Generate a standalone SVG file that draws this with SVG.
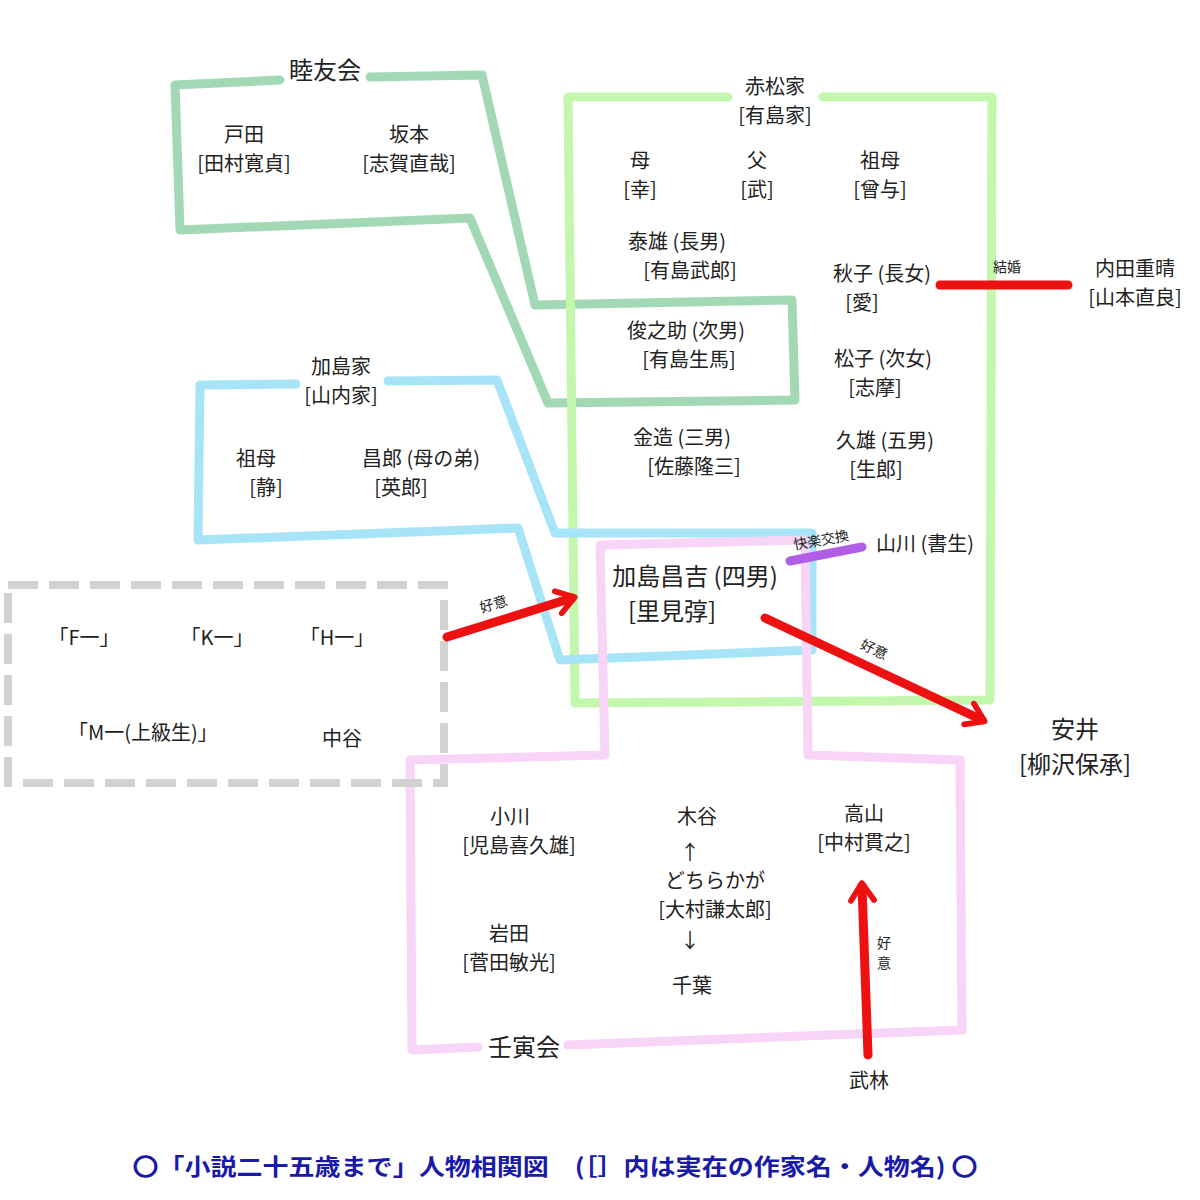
<svg xmlns="http://www.w3.org/2000/svg" width="1200" height="1200" viewBox="0 0 1200 1200">
<style>
text{font-family:"Noto Sans CJK JP","Noto Sans",sans-serif;fill:#222;font-size:20px;text-anchor:middle}
.b{font-size:24px}
.s{font-size:14px}
.g{fill:none;stroke-width:9;stroke-linejoin:round;stroke-linecap:round}
.red{stroke:#ee1111;stroke-width:9;stroke-linecap:round;fill:none}
</style>
<defs>
<marker id="ah" viewBox="0 0 10 10" refX="6" refY="5" markerWidth="3.2" markerHeight="3.2" orient="auto" markerUnits="strokeWidth"><path d="M1,1 L7,5 L1,9" fill="none" stroke="#ee1111" stroke-width="2" stroke-linecap="round" stroke-linejoin="round"/></marker>
</defs>
<rect width="1200" height="1200" fill="#fff"/>
<g id="groups">
<polyline class="g" stroke="#a3d8b4" points="280,80 175,85 180,230 470,218 548,403 795,400 792,300 535,305 482,75 370,77"/>
<polyline class="g" stroke="#c2f7ad" points="728,97 568,97 575,703 990,700 992,97 823,97"/>
<polyline class="g" stroke="#a8e4f8" points="296,384 200,385 198,540 518,528 560,660 812,650 812,533 555,533 497,380 388,381"/>
<polyline class="g" stroke="#f8d4f6" points="478,1047 412,1050 410,760 605,755 600,545 805,540 808,755 960,760 962,1030 568,1045"/>
<rect x="8" y="585" width="436" height="198" fill="none" stroke="#d2d2d2" stroke-width="8" stroke-dasharray="30,11"/>
</g>
<g id="connectors">
<line class="red" x1="447" y1="637" x2="572" y2="598" marker-end="url(#ah)"/>
<line class="red" x1="940" y1="285" x2="1068" y2="285"/>
<line class="red" x1="765" y1="618" x2="982" y2="720" marker-end="url(#ah)"/>
<line class="red" x1="868" y1="1055" x2="862" y2="886" marker-end="url(#ah)"/>
<line x1="790" y1="561" x2="862" y2="547" stroke="#b05ee6" stroke-width="9" stroke-linecap="round"/>
<text class="s" x="495" y="609" transform="rotate(-17 495 609)">好意</text>
<text class="s" x="1007" y="272">結婚</text>
<text class="s" x="872" y="654" transform="rotate(25 872 654)">好意</text>
<text class="s" x="884" y="948">好</text><text class="s" x="884" y="968">意</text>
<text class="s" x="822" y="545" transform="rotate(-10 822 545)">快楽交換</text>
</g>
<g id="labels">
<text class="b" x="325" y="79">睦友会</text>
<text x="775" y="94">赤松家</text><text x="775" y="123">[有島家]</text>
<text x="341" y="374">加島家</text><text x="341" y="403">[山内家]</text>
<text class="b" x="524" y="1056">壬寅会</text>
</g>
<g id="n-toda"><text x="244" y="142">戸田</text><text x="244" y="171">[田村寛貞]</text></g>
<g id="n-sakamoto"><text x="409" y="142">坂本</text><text x="409" y="171">[志賀直哉]</text></g>
<g id="n-haha"><text x="640" y="168">母</text><text x="640" y="197">[幸]</text></g>
<g id="n-chichi"><text x="757" y="168">父</text><text x="757" y="197">[武]</text></g>
<g id="n-sobo1"><text x="880" y="168">祖母</text><text x="880" y="197">[曾与]</text></g>
<g id="n-yasuo"><text x="677" y="249">泰雄 (長男)</text><text x="690" y="278">[有島武郎]</text></g>
<g id="n-akiko"><text x="882" y="281">秋子 (長女)</text><text x="862" y="310">[愛]</text></g>
<g id="n-uchida"><text x="1135" y="276">内田重晴</text><text x="1135" y="305">[山本直良]</text></g>
<g id="n-shunnosuke"><text x="686" y="338">俊之助 (次男)</text><text x="689" y="367">[有島生馬]</text></g>
<g id="n-matsuko"><text x="883" y="366">松子 (次女)</text><text x="875" y="395">[志摩]</text></g>
<g id="n-kinzo"><text x="682" y="445">金造 (三男)</text><text x="694" y="474">[佐藤隆三]</text></g>
<g id="n-hisao"><text x="885" y="448">久雄 (五男)</text><text x="876" y="477">[生郎]</text></g>
<g id="n-sobo2"><text x="256" y="466">祖母</text><text x="266" y="495">[静]</text></g>
<g id="n-masao"><text x="421" y="466">昌郎 (母の弟)</text><text x="401" y="495">[英郎]</text></g>
<g id="n-yamakawa"><text x="925" y="551">山川 (書生)</text></g>
<g id="n-masakichi"><text class="b" x="695" y="585">加島昌吉 (四男)</text><text class="b" x="672" y="620">[里見弴]</text></g>
<g id="n-F"><text x="84" y="645">「F一」</text></g>
<g id="n-K"><text x="217" y="645">「K一」</text></g>
<g id="n-H"><text x="337" y="645">「H一」</text></g>
<g id="n-M"><text x="143" y="740">「M一(上級生)」</text></g>
<g id="n-nakatani"><text x="342" y="746">中谷</text></g>
<g id="n-yasui"><text class="b" x="1075" y="738">安井</text><text class="b" x="1075" y="773">[柳沢保承]</text></g>
<g id="n-ogawa"><text x="510" y="824">小川</text><text x="519" y="853">[児島喜久雄]</text></g>
<g id="n-kitani"><text x="697" y="824">木谷</text><text x="690" y="860">↑</text><text x="715" y="888">どちらかが</text><text x="715" y="917">[大村謙太郎]</text><text x="690" y="948">↓</text><text x="692" y="993">千葉</text></g>
<g id="n-takayama"><text x="864" y="821">高山</text><text x="864" y="850">[中村貫之]</text></g>
<g id="n-iwata"><text x="509" y="941">岩田</text><text x="509" y="970">[菅田敏光]</text></g>
<g id="n-takebayashi"><text x="869" y="1088">武林</text></g>
<text x="555" y="1175" style="fill:#1a1aa8;font-weight:bold;font-size:23px" textLength="845" lengthAdjust="spacingAndGlyphs">〇「小説二十五歳まで」人物相関図　(［］内は実在の作家名・人物名) 〇</text>
</svg>
